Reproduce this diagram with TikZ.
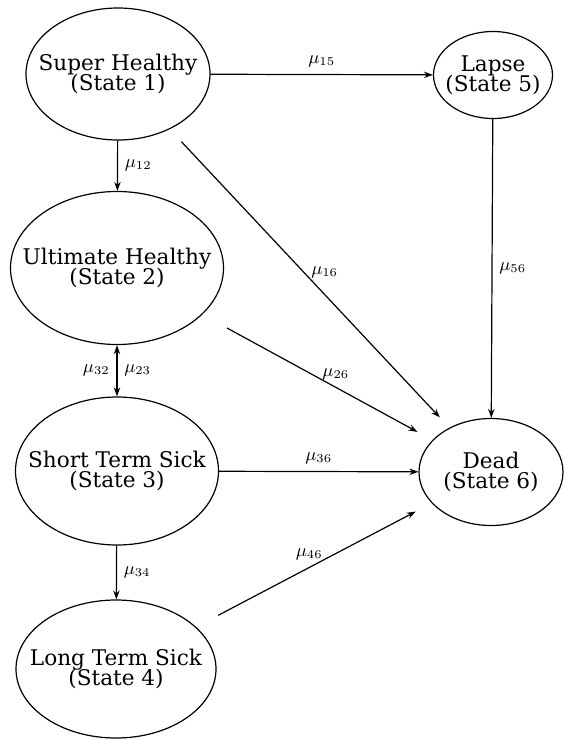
\documentclass[tikz,border=0pt]{standalone}
\usepackage{fontspec}
\setmainfont{DejaVu Serif}
\usepackage{tikz}
\usetikzlibrary{
    arrows.meta,
    shapes.geometric,
    positioning
}
\newcommand{\statefont}{\fontsize{10.8}{10}\selectfont\lineskiplimit -10pt\relax}

\begin{document}
\begin{tikzpicture}[x=0.5pt, y=-0.5pt, line width=0.6pt,
    >={Stealth[length=4.5pt,width=3.2pt]},
    st/.style={ellipse, draw, inner sep=0pt},
    every label/.style={align=center, inner sep=0pt, font=\statefont},
    every edge/.append style={font=\small}]
    \useasboundingbox (0,0) rectangle (565,740);
    % states
    \node[st, minimum width=92pt, minimum height=66pt,
        label=center:{Super Healthy\\(State 1)}] (sh) at (118,74) {};
    \node[st, minimum width=106.5pt, minimum height=76.5pt,
        label=center:{Ultimate Healthy\\(State 2)}] (uh) at (117,268) {};
    \node[st, minimum width=101.5pt, minimum height=74pt,
        label=center:{Short Term Sick\\(State 3)}] (st) at (117,471) {};
    \node[st, minimum width=100pt, minimum height=69pt,
        label=center:{Long Term Sick\\(State 4)}] (lt) at (116,669) {};
    \node[st, minimum width=59.5pt, minimum height=43.5pt,
        label=center:{Lapse\\(State 5)}] (la) at (493,75) {};
    \node[st, minimum width=72pt, minimum height=53.5pt,
        label=center:{Dead\\(State 6)}] (de) at (491,472) {};
    % transitions
    \draw
    (sh) edge[->] node[above] {$\mu_{15}$} (la)
    (sh) edge[->] node[right] {$\mu_{12}$} (uh)
    (sh) edge[->, shorten <=8.5pt, shorten >=7pt] node[pos=0.48, right] {$\mu_{16}$} (de)
    (uh) edge[<->] node[left] {$\mu_{32}$} node[right] {$\mu_{23}$} (st)
    (uh) edge[->, shorten <=14pt, shorten >=8.5pt] node[pos=0.58, above] {$\mu_{26}$} (de)
    (la) edge[->] node[right] {$\mu_{56}$} (de)
    (st) edge[->] node[above] {$\mu_{36}$} (de)
    (st) edge[->] node[right] {$\mu_{34}$} (lt)
    (lt) edge[->, shorten <=12.5pt, shorten >=9pt] node[pos=0.48, above] {$\mu_{46}$} (de);
\end{tikzpicture}
\end{document}
